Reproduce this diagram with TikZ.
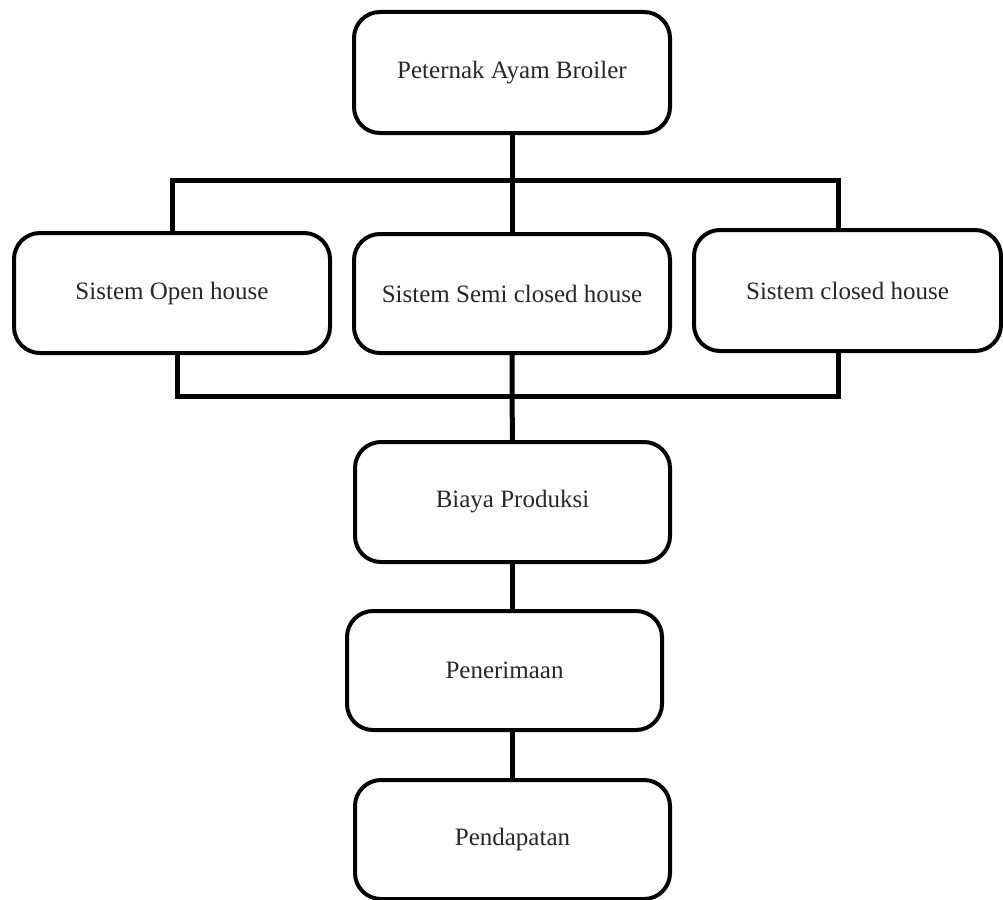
\documentclass[tikz,border=0pt]{standalone}
\usepackage{fontspec}
\setmainfont{Liberation Serif}
\definecolor{txt}{RGB}{40,40,40}
\begin{document}
\begin{tikzpicture}[x=1pt,y=-1pt,
  box/.style={draw=black, line width=4pt, rounded corners=26pt, fill=white,
    inner sep=0pt, text=txt, font=\fontsize{25}{30}\selectfont},
  link/.style={draw=black, line width=5pt, line join=miter}]
\useasboundingbox (0,0) rectangle (1003,899);
\node[box, minimum width=316pt, minimum height=121pt] (top) at (512,72.5) {Peternak Ayam Broiler};
\node[box, minimum width=316pt, minimum height=120pt] (left) at (172,293) {Sistem Open house};
\node[box, minimum width=316pt, minimum height=119pt] (mid) at (512,293.5) {Sistem Semi closed house};
\node[box, minimum width=307pt, minimum height=121pt] (right) at (847.5,290.5) {Sistem closed house};
\node[box, minimum width=315pt, minimum height=120pt] (biaya) at (512.5,502) {Biaya Produksi};
\node[box, minimum width=315pt, minimum height=119pt] (pener) at (504.5,670.5) {Penerimaan};
\node[box, minimum width=315pt, minimum height=119pt] (penda) at (512.5,839.5) {Pendapatan};
\coordinate (tl) at (172,180);
\coordinate (tm) at (512,180);
\coordinate (tr) at (838,180);
\coordinate (bl) at (177,396);
\coordinate (bm) at (512,396);
\coordinate (br) at (838,396);
\draw[link] (top.south) -- (tm);
\draw[link] (tl |- left.north) -- (tl) -- (tr) -- (tr |- right.north);
\draw[link] (tm) -- (mid.north);
\draw[link] (bl |- left.south) -- (bl) -- (br) -- (br |- right.south);
\draw[link] (mid.south) -- (bm) -- (biaya.north);
\draw[link] (biaya.south) -- (biaya.south |- pener.north);
\draw[link] (pener.south -| biaya.south) -- (penda.north);
\end{tikzpicture}
\end{document}
